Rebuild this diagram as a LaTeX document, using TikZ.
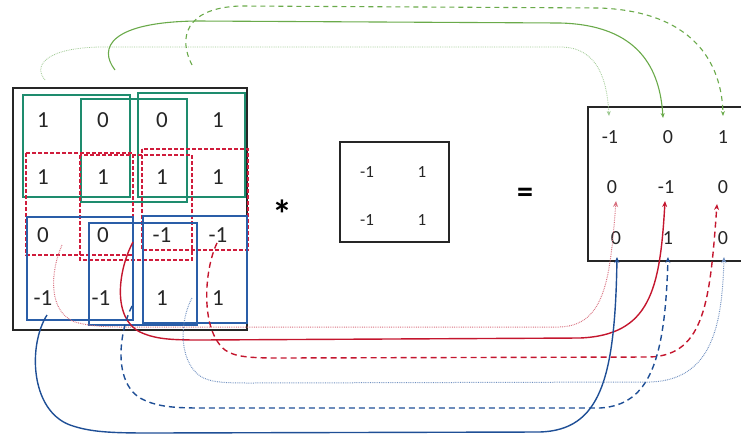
\documentclass[tikz,border=0pt]{standalone}
\usepackage{fontspec}
\setmainfont{Carlito}
\usetikzlibrary{arrows.meta}
\definecolor{gbox}{HTML}{1E8C6E}
\definecolor{rbox}{HTML}{D01C3C}
\definecolor{bbox}{HTML}{2A5EA8}
\definecolor{gline}{HTML}{6AAA4A}
\definecolor{glight}{HTML}{9CC890}
\definecolor{rline}{HTML}{C4162E}
\definecolor{rlight}{HTML}{D8707F}
\definecolor{bline}{HTML}{1F4F96}
\definecolor{blight}{HTML}{7090C0}
\tikzset{
  frame/.style={draw=black!85, line width=2.6pt},
  gframe/.style={draw=gbox, line width=1.6pt},
  rframe/.style={draw=rbox, line width=1.5pt, dash pattern=on 4pt off 2pt},
  bframe/.style={draw=bbox, line width=1.6pt},
  bigval/.style={font=\fontsize{23}{23}\selectfont, text=black!85, inner sep=0pt},
  kval/.style={font=\fontsize{17}{17}\selectfont, text=black!85, inner sep=0pt},
  rval/.style={font=\fontsize{20}{20}\selectfont, text=black!85, inner sep=0pt},
  tipg/.style={-{Stealth[length=5pt,width=4pt]}},
  tipb/.style={-{Stealth[length=6pt,width=5pt]}},
  thinline/.style={line width=0.8pt, densely dotted},
  solidline/.style={line width=1.4pt},
  dashline/.style={line width=1.4pt, dash pattern=on 6pt off 4pt},
}
\begin{document}
\begin{tikzpicture}[x=1pt,y=-1pt]
\useasboundingbox (0,0) rectangle (741,440);
\clip (0,0) rectangle (741,440);
% left matrix
\node[frame, minimum width=234pt, minimum height=242pt, inner sep=0pt] (L) at (130,209) {};
\node[bigval] (a11) at (43,120) {1};
\node[bigval] (a12) at (103,120) {0};
\node[bigval] (a13) at (162,120) {0};
\node[bigval] (a14) at (218,120) {1};
\node[bigval] (a21) at (43,177) {1};
\node[bigval] (a22) at (103,177) {1};
\node[bigval] (a23) at (162,177) {1};
\node[bigval] (a24) at (218,177) {1};
\node[bigval] (a31) at (43,235) {0};
\node[bigval] (a32) at (103,235) {0};
\node[bigval] (a33) at (162,235) {-1};
\node[bigval] (a34) at (218,235) {-1};
\node[bigval] (a41) at (43,298) {-1};
\node[bigval] (a42) at (101,298) {-1};
\node[bigval] (a43) at (162,298) {1};
\node[bigval] (a44) at (218,298) {1};
% green windows
\draw[gframe] (23,95) rectangle (130,197);
\draw[gframe] (81,99) rectangle (187,202);
\draw[gframe] (138,93) rectangle (245,197);
% red windows
\draw[rframe] (26,153) rectangle (133,255);
\draw[rframe] (80,155) rectangle (192,260);
\draw[rframe] (142,149) rectangle (248,250);
% blue windows
\draw[bframe] (27,217) rectangle (133,320);
\draw[bframe] (89,223) rectangle (197,325);
\draw[bframe] (143,216) rectangle (247,323);
% operator and kernel
\node[font=\bfseries\fontsize{40}{40}\selectfont, inner sep=0pt] (ast) at (282,214) {*};
\node[frame, line width=2.2pt, minimum width=109pt, minimum height=100pt, inner sep=0pt] (K) at (394.5,192) {};
\node[kval] (k11) at (367,172) {-1};
\node[kval] (k12) at (422,172) {1};
\node[kval] (k21) at (367,220) {-1};
\node[kval] (k22) at (422,220) {1};
\node[font=\bfseries\fontsize{32}{32}\selectfont, inner sep=0pt] (eq) at (525,195) {=};
% right matrix
\draw[frame, line width=2.2pt] (588,107) rectangle (760,261);
\coordinate (R) at (588,107);
\node[rval] (c11) at (610,137) {-1};
\node[rval] (c12) at (668,137) {0};
\node[rval] (c13) at (723,137) {1};
\node[rval] (c21) at (612,187) {0};
\node[rval] (c22) at (666,187) {-1};
\node[rval] (c23) at (723,187) {0};
\node[rval] (c31) at (616,238) {0};
\node[rval] (c32) at (668,238) {1};
\node[rval] (c33) at (723,238) {0};
% connector end points
\coordinate (gs1) at (45,80);  \coordinate (ge1) at (609,116);
\coordinate (gs2) at (115,70); \coordinate (ge2) at (663,118);
\coordinate (gs3) at (192,65); \coordinate (ge3) at (723,116);
\coordinate (rs1) at (62,245);  \coordinate (re1) at (616,201);
\coordinate (rs2) at (133,242); \coordinate (re2) at (665,201);
\coordinate (rs3) at (217,243); \coordinate (re3) at (717,204);
\coordinate (bs1) at (47,315);  \coordinate (be1) at (617,257);
\coordinate (bs2) at (132,306); \coordinate (be2) at (668,257);
\coordinate (bs3) at (192,298); \coordinate (be3) at (724,257);
% green connectors
\draw[glight, thinline, tipg] (gs1) .. controls (33,66) and (45,48) .. (100,47) -- (560,47) .. controls (598,47) and (607,80) .. (ge1);
\draw[gline, line width=1.1pt, tipg] (gs2) .. controls (98,48) and (110,22) .. (197,21) -- (560,23) .. controls (640,25) and (660,70) .. (ge2);
\draw[gline, line width=1.1pt, dash pattern=on 5pt off 4pt, tipg] (gs3) .. controls (178,38) and (185,8) .. (240,6) -- (600,8) .. controls (700,12) and (722,70) .. (ge3);
% red connectors
\draw[rlight, thinline, line width=1pt, tipb] (rs1) .. controls (50,272) and (48,312) .. (75,322) .. controls (95,328) and (120,327) .. (150,327) -- (560,327) .. controls (605,325) and (610,280) .. (re1);
\draw[rline, solidline, tipb] (rs2) .. controls (118,270) and (112,318) .. (140,332) .. controls (155,339) and (170,340) .. (200,340) -- (580,338) .. controls (650,335) and (660,290) .. (re2);
\draw[rline, dashline, tipb] (rs3) .. controls (204,270) and (200,330) .. (225,350) .. controls (235,357) and (250,358) .. (280,358) -- (650,357) .. controls (705,355) and (710,300) .. (re3);
% blue connectors
\draw[bline, solidline, tipb] (bs1) .. controls (28,345) and (30,410) .. (70,425) .. controls (90,432) and (110,433) .. (150,433) -- (540,432) .. controls (600,430) and (615,380) .. (be1);
\draw[bline, dashline, tipb] (bs2) .. controls (120,330) and (112,380) .. (140,398) .. controls (155,406) and (170,408) .. (200,408) -- (600,408) .. controls (650,405) and (665,360) .. (be2);
\draw[blight, thinline, line width=1pt, tipb] (bs3) .. controls (180,320) and (178,360) .. (200,376) .. controls (210,382) and (220,383) .. (250,383) -- (650,382) .. controls (710,380) and (722,330) .. (be3);
\end{tikzpicture}
\end{document}
